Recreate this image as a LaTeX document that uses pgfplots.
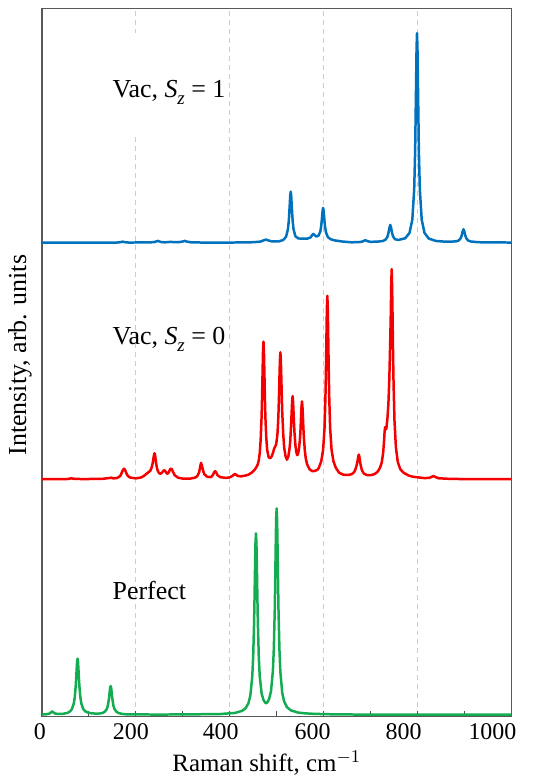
\documentclass[border=0pt]{standalone}
\usepackage{pgfplots}
\pgfplotsset{compat=1.18}
\usepackage{fontspec}
\setmainfont{Liberation Serif}
\definecolor{cblue}{RGB}{0,114,189}
\definecolor{cred}{RGB}{245,0,0}
\definecolor{cgreen}{RGB}{20,172,80}
\newcommand{\subz}{\raisebox{-3.3pt}{\fontsize{9.5}{10}\selectfont\textit{z}}}
\begin{document}
\begin{tikzpicture}
\begin{axis}[
  scale only axis,
  width=235.5pt, height=355.1pt,
  xmin=0, xmax=1000, ymin=0, ymax=710.2,
  xtick={0,200,400,600,800,1000},
  xticklabels={\hspace*{-2pt}0,\hspace*{-5pt}200,\hspace*{-9pt}400,\hspace*{-11pt}600,\hspace*{-14pt}800,\hspace*{-19pt}1000},
  minor xtick={100,300,500,700,900},
  ytick=\empty,
  xtick pos=left,
  tick align=inside,
  major tick length=2.5pt, minor tick length=2.5pt,
  every tick/.style={black!70, line width=0.5pt},
  xmajorgrids=true,
  major grid style={gray!40, line width=0.5pt, dash pattern=on 2.5pt off 2pt},
  axis line style={black!65, line width=0.7pt},
  ticklabel style={font=\fontsize{12}{14}\selectfont},
  xlabel={Raman shift, cm$^{-1}$},
  ylabel={Intensity, arb. units},
  xlabel style={font=\fontsize{12.5}{14}\selectfont, at={(axis description cs:0.479,-0.0781)}, anchor=base},
  ylabel style={font=\fontsize{13}{15}\selectfont, at={(axis description cs:-0.0467,0.51)}, anchor=center},
  clip=true,
]
% Perfect
\addplot[cgreen, line width=1.25pt, line join=round] table {
0 1.75
10 2.0
16 2.65
19 3.65
22 4.8
25 3.7
28 2.75
34 2.3
46 2.5
54 3.3
60 4.8
64 7.1
68 12.8
70 18.8
72 29.7
73 37.5
74 46.5
75 54.5
76 57.8
77 54.5
78 46.5
79 37.5
80 29.9
82 19
84 13
88 7.35
92 5.1
98 3.7
106 2.9
118 2.55
124 2.8
130 3.4
134.5 4.7
138.5 7.45
140.5 10.55
142.5 16.15
143.5 20.15
144.5 24.75
145.5 28.7
146.5 30.3
147.5 28.7
148.5 24.7
149.5 20.1
150.5 16.1
152.5 10.5
154.5 7.4
158.5 4.6
163 3.3
169 2.5
177 2.0
200 1.8
250 1.7
300 1.8
340 2.0
380 2.2
411 3.3
426 5.3
434 8.05
440 13.1
444 20.75
448 39.1
450 58.8
452 93.9
453 119.5
454 148.6
455 174
456 183.5
457 173.5
458 149
459 120
460 94.5
462 59.7
464 40.4
468 22.9
472 16.3
476 13.5
478 13.0
480 13.8
484 17.3
488 25
492 45.1
494 67.3
496 106.9
497 135.8
498 168.9
499 198
500 208.5
501 197.9
502 168.7
503 135.5
504 106.5
506 66.7
508 44.2
512 23.4
516 14.8
522 9.1
530 5.95
545 3.75
560 2.9
580 2.4
620 1.9
700 1.6
1000 1.5
};
% Vac, Sz = 0 (offset 237.8)
\addplot[cred, line width=1.25pt, line join=round] table[x index=0, y expr=\thisrowno{1}+237.8] {
0 0
50 0
58 0.4
63 0.9
68 0.3
90 0.1
130 0.4
144 1.2
148 1.5
152 0.8
160 1.2
165 2.5
168 4
171 7.5
173 9.5
175 10.5
177 9.5
179 7
182 4
187 1.8
200 0.8
212 1.8
218 3.5
223 5.5
227 7
231 8.5
234 12
236 16
238 22
239 24.5
240 26
241 24.5
242 21
244 14
246 9.5
249 6.5
252 5.3
256 6.5
259 8.5
261 9
263 8
266 5.8
268 5.5
271 7.5
273 10
275 10.7
277 10
279 7.5
283 4
290 1.5
300 0.6
315 0.5
326 1.5
331 3
335 7
337 12
339 16.4
341 13.5
343 9
346 5
352 2.5
360 2
364 4
367 7
369 8
371 7
374 4
380 2
392 1.3
400 1.8
405 3
409 4.5
411 5.2
413 4.8
417 3.3
424 2.8
432 3.5
440 4.5
448 7
454 10
458 13
460 15
462 19
464 26
466 39.5
468 63
469 82
470 105.5
471 128
472 138
473 128
474 105.5
475 82
476 63
478 41
480 29
483 22
486 21
489 22.4
492 26
495 31
497 32.7
499 35
501 42
502 47
503 56
504 67
505 83
506 102
507 119
508 127.4
509 119
510 102
511 83
512 67
514 46
516 32
519 23
522 19.5
525 23
527 29
528 33
529 38
530 47
531 56
532 67.5
533 78
534 83.4
535 78
536 67.5
537 56
538 47
540 34
542 27
544 24
546 26
548 32
550 42
551 51
552 62.5
553 73
554 78
555 73
556 62.5
557 51
558 42
560 29
562 21
565 14.8
570 10
576 8
582 8.3
587 9.5
590 11.5
595 18
599 29.4
602 51
604 83
605 108.5
606 140
607 171
608 184
609 171
610 140
611 108.5
612 83
614 51
617 29.4
621 18
626 11.5
633 6.5
642 4.5
652 4.2
660 5
665 7
668 10
671 15
673 20
674 23
675 24.7
676 23
677 20
679 14
682 8.5
686 5.5
692 4.2
700 4
708 5
714 7
718 9.5
721 12.5
724 17
727 27
729 40
730 48
731 52
732 51.5
733 50
734 52
736 61
738 75
740 100
741 120
742 140
743 162
744 192
745 210.7
746 192
747 161
748 125
749 97
751 59
754 32
758 17.5
763 10.3
769 7
774 5.5
782 3.5
790 2.5
803 1.7
815 1.1
825 1.3
830 2.3
834 3.2
838 2.2
845 0.9
870 0.3
900 0.1
1000 0
};
% Vac, Sz = 1
\addplot[cblue, line width=1.25pt, line join=round] table {
0 475.2
100 475.2
160 475.2
167 475.5
172 476.1
177 475.5
185 475.2
230 475.3
240 475.7
247 476.8
254 475.7
262 475.4
270 475.7
275 475.9
282 475.5
292 475.6
299 476.1
304 476.8
309 476.1
318 475.4
340 475.2
400 475.2
440 475.3
455 475.7
465 476.1
472 477.3
477 478.2
482 477.3
490 476.4
505 476.4
514 477.7
520 480.9
524 488.2
526 497.3
528 513.7
529 522.6
530 526.2
531 522.6
532 514.0
534 497.5
536 488.5
540 481.5
546 479.3
555 479.1
565 479.1
572 480.2
576 482.8
578 483.9
580 483.1
584 481.2
589 482.0
593 486.1
595 491.9
597 502.0
598 507.5
599 509.9
600 507.5
601 502.0
603 491.6
605 485.6
609 480.7
615 478.5
624 477.3
640 476.2
660 475.4
680 475.8
684 476.5
689 477.5
694 476.5
700 475.9
715 476.1
726 476.7
732 478.1
736 481.0
738 484.4
740 489.5
742 492.9
744 489.6
746 484.5
748 481.3
752 478.6
759 477.7
774 479.5
783 484.8
789 498.1
793 528.5
795 566.3
797 633.5
798 669.5
799 685.2
800 669.5
801 633.5
803 566.3
805 528.5
809 498.1
815 484.8
824 479.2
839 476.8
860 476.0
882 476.3
888 477.3
892 479.5
894 482.0
896 485.9
898 488.5
900 485.9
902 482.0
904 479.4
908 477.2
914 476.2
930 475.5
960 475.3
1000 475.2
};
\fill[white] (axis cs:17,685.5) rectangle (axis cs:378,581.5);
\node[anchor=base west, inner sep=0pt, font=\fontsize{13}{15}\selectfont] at (axis cs:150,620.2) {Vac, \textit{S}\subz{} = 1};
\node[anchor=base west, inner sep=0pt, font=\fontsize{13}{15}\selectfont] at (axis cs:150,372.5) {Vac, \textit{S}\subz{} = 0};
\node[anchor=base west, inner sep=0pt, font=\fontsize{13}{15}\selectfont] at (axis cs:150,116.8) {Perfect};
\end{axis}
\path ([xshift=-21pt,yshift=-31.75pt]current axis.south west) rectangle ([xshift=14.5pt,yshift=4.15pt]current axis.north east);
\end{tikzpicture}
\end{document}
